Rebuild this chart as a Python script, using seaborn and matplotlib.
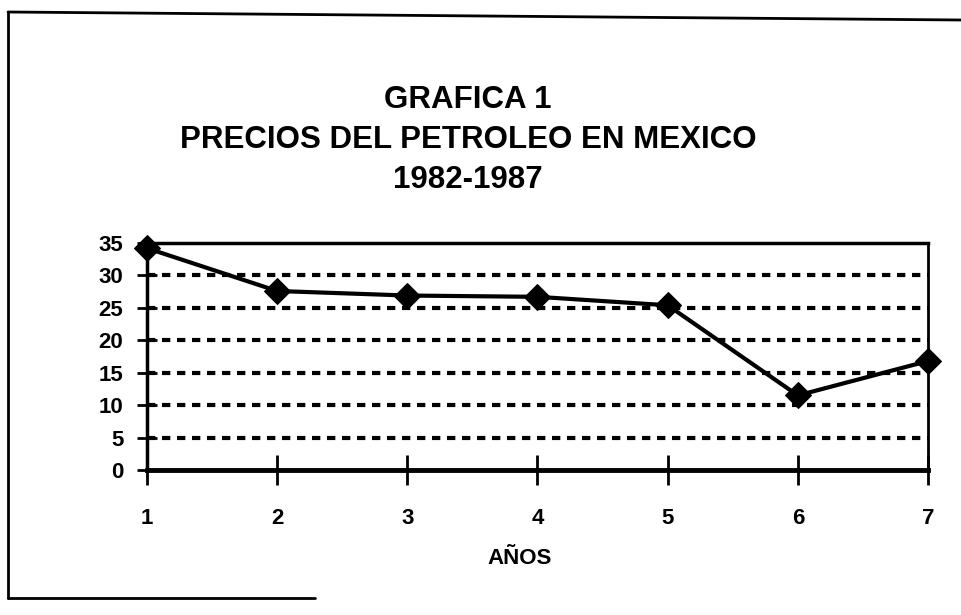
import matplotlib
matplotlib.use("Agg")
import matplotlib.pyplot as plt
import seaborn as sns
import pandas as pd
from matplotlib.lines import Line2D

anios = [1, 2, 3, 4, 5, 6, 7]
precios = [34.2, 27.6, 26.9, 26.7, 25.4, 11.5, 16.8]
y_ticks = [0, 5, 10, 15, 20, 25, 30, 35]

sns.set_theme(style="white")
plt.rcParams['font.family'] = ['Liberation Sans', 'DejaVu Sans']
plt.rcParams['font.weight'] = 'bold'
plt.rcParams['text.color'] = 'black'

df = pd.DataFrame({"anio": anios, "precio": precios})

fig = plt.figure(figsize=(9.61, 6.15), dpi=100)
ax = fig.add_axes([147/961, 1-470/615, (928-147)/961, (470-243)/615])

for yv in y_ticks[1:-1]:
    ax.axhline(yv, color="black", lw=3, linestyle=(0, (2.0, 1.6)), zorder=1)

sns.lineplot(data=df, x="anio", y="precio", ax=ax, color="black", lw=3,
             marker="D", markersize=13, markeredgecolor="black", zorder=3, clip_on=False)

ax.set_xlim(1, 7)
ax.set_ylim(0, 35)
ax.set_xticks(anios)
ax.set_yticks(y_ticks)
ax.tick_params(axis="x", bottom=True, direction="inout", length=22, width=2, pad=16,
               labelsize=16, colors="black")
ax.tick_params(axis="y", left=True, direction="inout", length=14, width=2, pad=10,
               labelsize=16, colors="black")
for lab in ax.get_xticklabels() + ax.get_yticklabels():
    lab.set_fontweight("bold")
for s in ax.spines.values():
    s.set_visible(True)
    s.set_color("black")
ax.spines["left"].set_linewidth(2.5)
ax.spines["bottom"].set_linewidth(3.5)
ax.spines["top"].set_linewidth(2.5)
ax.spines["right"].set_linewidth(2)
ax.set_xlabel("AÑOS", fontsize=16, fontweight="bold", color="black")
ax.set_ylabel("")
ax.xaxis.set_label_coords((520-147)/(928-147), -(548-470)/227)

for txt, yy in [("GRAFICA 1", 100), ("PRECIOS DEL PETROLEO EN MEXICO", 140), ("1982-1987", 180)]:
    fig.text(0.487, 1-yy/615, txt, ha="center", va="center", fontsize=22.5,
             fontweight="bold", color="black")

# outer frame
fig.add_artist(Line2D([8/961, 8/961], [1-12/615, 1-598/615], color="black", lw=2, transform=fig.transFigure))
fig.add_artist(Line2D([8/961, 1.0], [1-12/615, 1-20/615], color="black", lw=2, transform=fig.transFigure))
fig.add_artist(Line2D([8/961, 315/961], [1-598/615, 1-598/615], color="black", lw=2, transform=fig.transFigure))

fig.savefig("out.png", dpi=100)
